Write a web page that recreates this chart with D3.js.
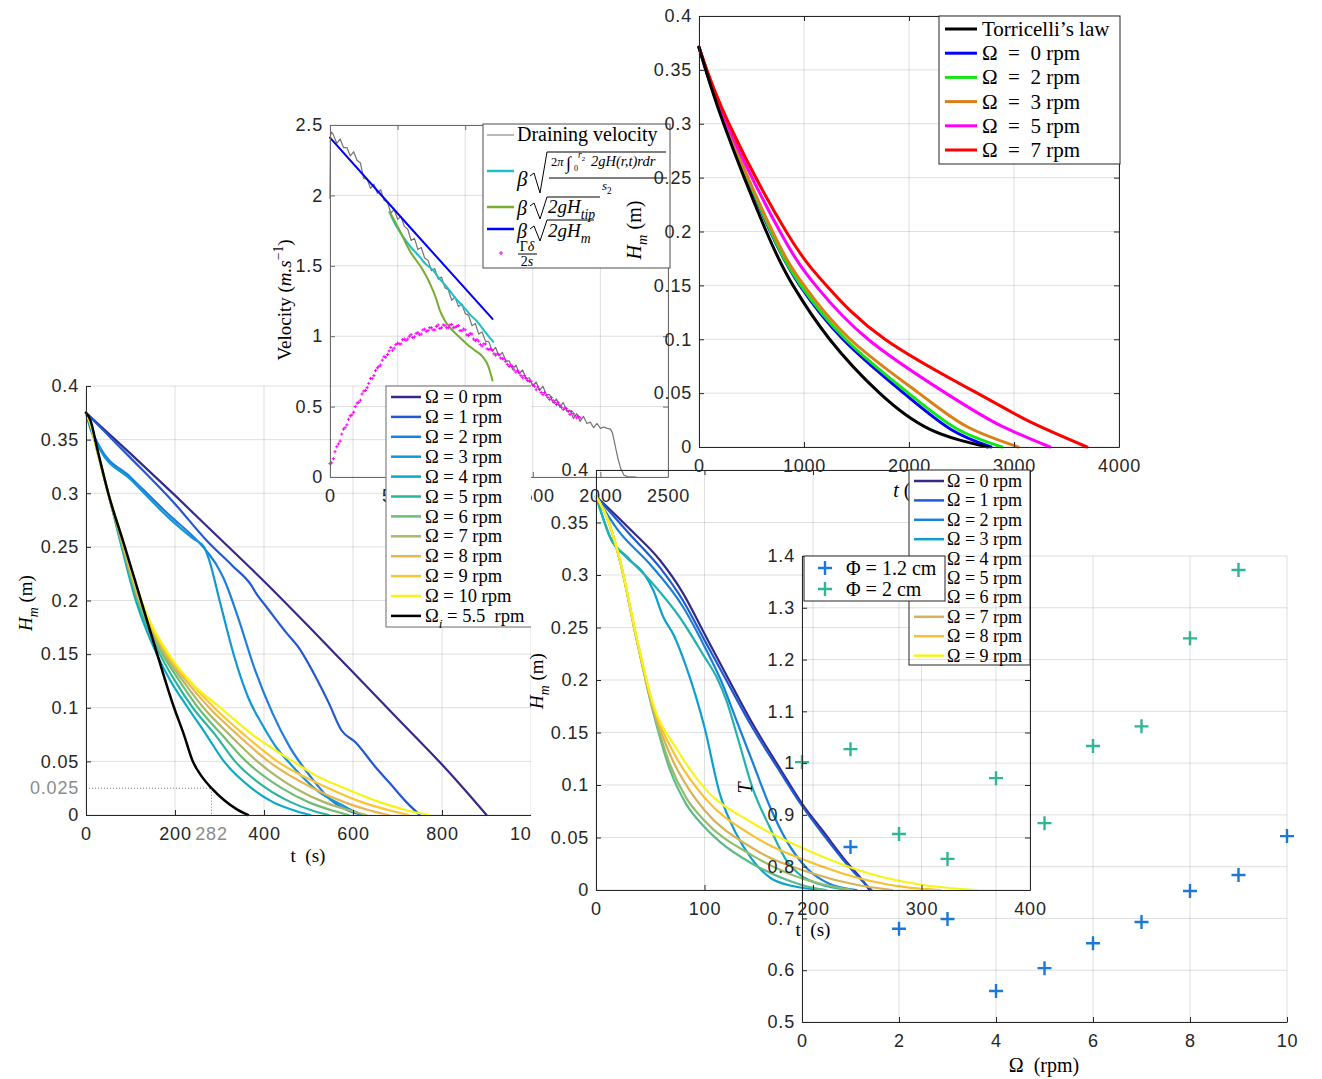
<!DOCTYPE html>
<html>
<head>
<meta charset="utf-8">
<script src="https://cdn.jsdelivr.net/npm/d3@7"></script>
<style>
  body { margin: 0; background: #fff; }
  svg { display: block; }
  text { white-space: pre; }
</style>
</head>
<body>
<svg id="chart" width="1322" height="1079"></svg>
<script>
// ---------- data: velocity panel (t in s, v in m/s) ----------
const velDraining = [[0,1.98],[4,2.43],[12,2.45],[25,2.43],[50,2.37],[75,2.40],[100,2.34],[125,2.34],[150,2.28],[175,2.31],[200,2.25],
  [225,2.23],[250,2.12],[275,2.115],[300,2.05],[325,2.08],[350,2.015],[375,2.04],[400,1.965],[425,1.95],[450,1.875],[475,1.90],
  [500,1.83],[525,1.85],[550,1.78],[575,1.76],[600,1.68],[625,1.695],[650,1.615],[675,1.63],[700,1.555],[725,1.54],[750,1.465],
  [775,1.48],[800,1.405],[825,1.42],[850,1.345],[875,1.33],[900,1.255],[925,1.28],[950,1.21],[975,1.23],[1000,1.16],[1025,1.15],
  [1050,1.075],[1075,1.09],[1100,1.015],[1125,1.03],[1150,0.965],[1175,0.96],[1200,0.895],[1225,0.92],[1250,0.86],[1275,0.885],
  [1300,0.825],[1325,0.825],[1350,0.765],[1375,0.795],[1400,0.735],[1425,0.76],[1450,0.70],[1475,0.705],[1500,0.645],[1525,0.675],
  [1550,0.615],[1575,0.645],[1600,0.585],[1625,0.585],[1650,0.525],[1675,0.555],[1700,0.495],[1725,0.53],[1750,0.47],[1775,0.475],
  [1800,0.415],[1825,0.45],[1850,0.395],[1875,0.43],[1900,0.38],[1925,0.39],[1950,0.35],[1975,0.38],[2000,0.345],[2025,0.355],
  [2050,0.345],[2075,0.34],[2090,0.31],[2110,0.22],[2130,0.13],[2150,0.06],[2175,0.012],[2200,0.003],[2262,0.0]];
const velIntegral = [[440,1.88],[480,1.80],[545,1.70],[600,1.63],[667,1.56],[700,1.52],[765,1.465],[800,1.42],[864,1.35],
  [920,1.28],[986,1.21],[1040,1.15],[1084,1.11],[1140,1.04],[1207,0.96]];
const velTip = [[442,1.88],[500,1.78],[594,1.60],[680,1.48],[741,1.37],[780,1.28],[814,1.18],[850,1.11],[888,1.06],[950,1.0],
  [1011,0.945],[1070,0.90],[1133,0.85],[1170,0.79],[1202,0.686]];
const velMean = [[0,2.41],[600,1.765],[1202,1.123]];
const velGammaA = [[0,0.095],[25,0.13],[50,0.215],[75,0.255],[100,0.34],[125,0.37],[150,0.435],[175,0.46],[200,0.525],[225,0.545],
  [250,0.61],[275,0.635],[300,0.70],[325,0.72],[350,0.775],[375,0.795],[400,0.855],[425,0.87],[450,0.92],[475,0.915],[500,0.95],
  [525,0.945],[550,0.98],[575,0.98],[600,1.01],[625,0.995],[650,1.025],[675,1.015],[700,1.05],[725,1.04],[750,1.06],[775,1.045],
  [800,1.08],[825,1.06],[850,1.077],[875,1.06],[900,1.084],[925,1.063],[950,1.075],[975,1.038],[1000,1.045],[1025,1.005],
  [1050,1.015],[1075,0.97],[1100,0.965],[1125,0.93],[1150,0.945],[1175,0.905],[1200,0.90],[1225,0.865],[1250,0.87],[1275,0.84],
  [1300,0.82],[1325,0.785],[1350,0.785],[1375,0.745],[1400,0.74],[1425,0.705],[1450,0.70],[1475,0.68],[1500,0.655],[1525,0.62],
  [1550,0.62],[1575,0.585],[1600,0.58],[1625,0.55],[1650,0.545],[1675,0.515],[1700,0.51],[1725,0.48],[1750,0.485],[1775,0.445],
  [1800,0.45],[1825,0.42],[1850,0.42]];
const velGammaB = [[12,0.10],[37,0.18],[62,0.235],[87,0.305],[112,0.35],[137,0.41],[162,0.44],[187,0.50],[212,0.53],[237,0.59],
  [262,0.615],[287,0.665],[312,0.70],[337,0.755],[362,0.785],[387,0.83],[412,0.85],[437,0.895],[462,0.90],[487,0.94],[512,0.945],
  [537,0.975],[562,0.97],[587,1.0],[612,0.99],[637,1.02],[662,1.01],[687,1.045],[712,1.035],[737,1.06],[762,1.045],[787,1.07],
  [812,1.055],[837,1.08],[862,1.06],[887,1.08],[912,1.06],[937,1.07],[962,1.04],[987,1.05],[1012,1.01],[1037,1.02],[1062,0.98],
  [1087,0.975],[1112,0.94],[1137,0.945],[1162,0.91],[1187,0.91],[1212,0.875],[1237,0.875],[1262,0.845],[1287,0.84],[1312,0.80],
  [1337,0.795],[1362,0.76],[1387,0.755],[1412,0.72],[1437,0.72],[1462,0.685],[1487,0.68],[1512,0.645],[1537,0.64],[1562,0.60],
  [1587,0.60],[1612,0.565],[1637,0.565],[1662,0.53],[1687,0.53],[1712,0.495],[1737,0.49],[1762,0.465],[1787,0.465],[1812,0.435],[1837,0.43]];
const velXTicks = [0, 500, 1000, 1500, 2000, 2500];
const velYTicks = [0, 0.5, 1, 1.5, 2, 2.5];

// ---------- data: left panel, H_m (m) vs t (s) ----------
const leftOmegaLabels = ["0", "1", "2", "3", "4", "5", "6", "7", "8", "9", "10"];
const leftOm0 = [[0,0.375],[100,0.337],[200,0.298],[300,0.258],[400,0.218],[500,0.176],[600,0.133],[700,0.09],[800,0.047],[850,0.024],[900,0]];
const leftOm1 = [[0,0.375],[50,0.354],[100,0.333],[200,0.29],[271,0.256],[330,0.232],[370,0.215],[385,0.205],[400,0.197],[450,0.17],[480,0.155],
  [512,0.132],[545,0.105],[574,0.079],[605,0.068],[650,0.045],[682,0.03],[720,0.012],[750,0]];
const leftOm2 = [[0,0.375],[10,0.362],[31,0.343],[100,0.315],[194,0.277],[240,0.26],[271,0.246],[295,0.232],[310,0.22],[341,0.185],
  [380,0.135],[419,0.095],[457,0.064],[504,0.036],[550,0.014],[590,0.004],[624,0]];
const leftOm3 = [[0,0.375],[10,0.36],[31,0.341],[100,0.313],[194,0.274],[240,0.258],[265,0.25],[275,0.24],[302,0.197],[333,0.148],
  [364,0.11],[395,0.085],[426,0.064],[465,0.045],[519,0.023],[581,0.008],[620,0]];
const leftOm4 = [[0,0.375],[10,0.365],[25,0.34],[50,0.30],[74,0.26],[112,0.20],[159,0.15],[190,0.125],[229,0.10],[270,0.075],[310,0.05],[372,0.025],[420,0.012],[470,0.004],[504,0]];
const leftOm5 = [[0,0.375],[10,0.365],[25,0.34],[50,0.30],[75,0.26],[115,0.20],[166,0.15],[200,0.125],[240,0.10],[290,0.075],[335,0.05],[405,0.025],[460,0.012],[510,0.004],[545,0]];
const leftOm6 = [[0,0.375],[10,0.365],[25,0.34],[50,0.30],[76,0.26],[117,0.20],[172,0.15],[210,0.125],[252,0.10],[305,0.075],[360,0.05],[440,0.025],[500,0.012],[555,0.004],[590,0]];
const leftOm7 = [[0,0.375],[10,0.365],[25,0.34],[50,0.30],[77,0.26],[119,0.20],[176,0.15],[218,0.125],[264,0.10],[322,0.075],[385,0.05],[470,0.025],[535,0.012],[595,0.004],[630,0]];
const leftOm8 = [[0,0.375],[10,0.365],[25,0.34],[50,0.30],[78,0.26],[121,0.20],[180,0.15],[225,0.125],[277,0.10],[340,0.075],[410,0.05],[510,0.025],[580,0.012],[640,0.004],[680,0]];
const leftOm9 = [[0,0.375],[10,0.365],[25,0.34],[50,0.30],[79,0.26],[122,0.20],[183,0.15],[232,0.125],[288,0.10],[355,0.075],[430,0.05],[545,0.025],[620,0.012],[685,0.004],[725,0]];
const leftOm10 = [[0,0.375],[10,0.365],[25,0.34],[50,0.30],[80,0.26],[124,0.20],[186,0.15],[240,0.122],[302,0.10],[380,0.073],[465,0.05],[520,0.036],[581,0.025],[660,0.012],[725,0.004],[771,0]];
const leftOmegaI = [[0,0.375],[10,0.368],[25,0.342],[50,0.30],[85,0.253],[120,0.205],[160,0.15],[198,0.10],[220,0.075],[240,0.05],[260,0.036],[282,0.025],[310,0.014],[340,0.005],[364,0]];
const leftXTicks = [0, 200, 400, 600, 800, 1000];
const hTicks = [0, 0.05, 0.1, 0.15, 0.2, 0.25, 0.3, 0.35, 0.4];
const leftMarkT = 282, leftMarkH = 0.025;

// ---------- data: top-right panel, H_m (m) vs t (s) ----------
const trLabels = ["Torricelli’s law", "0", "2", "3", "5", "7"];
const trTorricelli = [[0,0.371],[235,0.30],[641,0.20],[895,0.15],[1244,0.10],[1720,0.05],[2200,0.0164],[2750,0]];
const trOm0 = [[0,0.371],[245,0.30],[680,0.20],[960,0.15],[1371,0.10],[1950,0.05],[2400,0.0163],[2781,0]];
const trOm2 = [[0,0.371],[250,0.30],[685,0.20],[970,0.15],[1395,0.10],[1995,0.05],[2450,0.0172],[2886,0]];
const trOm3 = [[0,0.371],[255,0.30],[700,0.20],[1000,0.15],[1440,0.10],[2094,0.05],[2550,0.019],[3040,0]];
const trOm5 = [[0,0.371],[265,0.30],[771,0.20],[1110,0.15],[1610,0.10],[2350,0.05],[2850,0.021],[3343,0]];
const trOm7 = [[0,0.371],[285,0.30],[830,0.20],[1213,0.15],[1771,0.10],[2650,0.05],[3150,0.0235],[3695,0]];
const trXTicks = [0, 1000, 2000, 3000, 4000];

// ---------- data: middle panel, H_m (m) vs t (s) ----------
const midOmegaLabels = ["0", "1", "2", "3", "4", "5", "6", "7", "8", "9"];
const midOm0 = [[0,0.375],[30,0.345],[59,0.314],[80,0.283],[100,0.244],[120,0.205],[144,0.159],[170,0.115],[190,0.082],[210,0.055],[230,0.028],[245,0.01],[252,0]];
const midOm1 = [[0,0.375],[30,0.34],[59,0.307],[80,0.276],[100,0.238],[120,0.2],[144,0.155],[170,0.112],[190,0.08],[210,0.052],[230,0.026],[245,0.009],[254,0]];
const midOm2 = [[0,0.375],[20,0.343],[50,0.31],[80,0.27],[100,0.232],[115,0.2],[130,0.16],[145,0.12],[160,0.08],[175,0.048],[195,0.02],[215,0.006],[240,0]];
const midOm3 = [[0,0.375],[8,0.35],[13,0.336],[28,0.317],[45,0.3],[53,0.285],[62,0.26],[71,0.244],[83,0.213],[100,0.155],[114,0.092],[129,0.054],[144,0.029],[160,0.012],[180,0.004],[210,0]];
const midOm4 = [[0,0.375],[13,0.336],[30,0.316],[53,0.291],[77,0.26],[100,0.222],[111,0.203],[120,0.181],[132,0.14],[144,0.098],[160,0.06],[175,0.029],[190,0.013],[205,0.006],[236,0]];
const midOm5 = [[0,0.375],[10,0.355],[22,0.314],[37,0.241],[53,0.168],[68,0.115],[83,0.082],[100,0.060],[114,0.046],[144,0.025],[175,0.01],[200,0.002],[212,0]];
const midOm6 = [[0,0.375],[10,0.355],[22,0.314],[37,0.241],[53,0.17],[68,0.12],[83,0.088],[100,0.066],[144,0.033],[190,0.011],[236,0]];
const midOm7 = [[0,0.375],[10,0.355],[22,0.314],[37,0.241],[53,0.172],[70,0.125],[85,0.097],[100,0.076],[144,0.040],[199,0.016],[240,0.005],[273,0]];
const midOm8 = [[0,0.375],[10,0.355],[22,0.314],[37,0.242],[53,0.174],[72,0.13],[100,0.088],[144,0.052],[199,0.026],[251,0.009],[290,0.002],[317,0]];
const midOm9 = [[0,0.375],[10,0.355],[22,0.315],[37,0.243],[53,0.176],[74,0.135],[100,0.097],[144,0.064],[199,0.036],[251,0.016],[300,0.005],[351,0]];
const midXTicks = [0, 100, 200, 300, 400];

// ---------- data: scatter panel ----------
const scOmega = [0, 1, 2, 3, 4, 5, 6, 7, 8, 9, 10];
const scPhi12 = [null, 0.838, 0.68, 0.699, 0.56, 0.604, 0.652, 0.693, 0.753, 0.784, 0.859];
const scPhi2 = [1.002, 1.027, 0.863, 0.815, 0.971, 0.884, 1.033, 1.071, 1.241, 1.373, null];
const scXTicks = [0, 2, 4, 6, 8, 10];
const scYTicks = [0.5, 0.6, 0.7, 0.8, 0.9, 1, 1.1, 1.2, 1.3, 1.4];

// ---------- styles ----------
const leftColors = ["#352a87", "#2357d3", "#1e7ddf", "#1396d4", "#09aac6", "#2ab59c", "#6dbe74", "#abb866", "#e8b550", "#f8c534", "#f5f413"];
const midColors = ["#352a87", "#1f5ad6", "#1a80dd", "#0d9fcf", "#22b2ae", "#5bbb88", "#93bd6e", "#d8b257", "#f8c12f", "#f6f517"];
const trColors = ["#000000", "#0000ff", "#14e614", "#d98019", "#ff00ff", "#ff0000"];
const SANS = "'Liberation Sans', Arial, Helvetica, sans-serif";
const SERIF = "'Liberation Serif', 'Times New Roman', serif";
const TICK_FS = 18;

const svg = d3.select("#chart");
const fmt = d => String(+d.toFixed(4));

// write text made of parts: [string, style] where style may hold "it", "sub", "sup"
function rich(textSel, parts, size) {
  let shift = 0;
  parts.forEach(([str, st]) => {
    let target = 0, fs = size;
    if (st.includes("sub")) { target = size * 0.3; fs = size * 0.72; }
    if (st.includes("sup")) { target = -size * 0.42; fs = size * 0.72; }
    const t = textSel.append("tspan").text(str).attr("font-size", fs);
    if (target - shift !== 0) t.attr("dy", target - shift);
    if (st.includes("it")) t.attr("font-style", "italic");
    shift = target;
  });
}

function panel(cfg) {
  const g = svg.append("g");
  if (cfg.clipRight) {
    svg.append("clipPath").attr("id", cfg.id + "-clip")
      .append("rect").attr("x", 0).attr("y", 0).attr("width", cfg.clipRight).attr("height", 1079);
    g.attr("clip-path", `url(#${cfg.id}-clip)`);
  }
  const x = d3.scaleLinear().domain(cfg.xDomain).range([cfg.left, cfg.right]);
  const y = d3.scaleLinear().domain(cfg.yDomain).range([cfg.bottom, cfg.top]);
  const grid = g.append("g").attr("stroke", "#262626").attr("stroke-opacity", 0.15).attr("stroke-width", 1);
  grid.selectAll(".gx").data(cfg.xTicks).join("line")
    .attr("x1", d => x(d)).attr("x2", d => x(d)).attr("y1", cfg.top).attr("y2", cfg.bottom);
  grid.selectAll(".gy").data(cfg.yTicks).join("line")
    .attr("x1", cfg.left).attr("x2", cfg.right).attr("y1", d => y(d)).attr("y2", d => y(d));
  const plot = g.append("g");
  return { g, x, y, plot, cfg };
}

function addAxes(p) {
  const { g, x, y, cfg } = p;
  const col = cfg.axisColor || "#262626";
  const style = sel => {
    sel.attr("font-size", null).attr("font-family", null);
    sel.select(".domain").attr("stroke", col);
    sel.selectAll(".tick line").attr("stroke", col);
    sel.selectAll(".tick text").attr("fill", "#262626").attr("font-size", TICK_FS)
      .attr("font-family", SANS).attr("letter-spacing", 0.8);
  };
  g.append("g").attr("transform", `translate(0,${cfg.bottom})`)
    .call(d3.axisBottom(x).tickValues(cfg.xTicks).tickFormat(fmt).tickSizeInner(-5).tickSizeOuter(0).tickPadding(12))
    .call(style);
  g.append("g").attr("transform", `translate(${cfg.left},0)`)
    .call(d3.axisLeft(y).tickValues(cfg.yTicks).tickFormat(fmt).tickSizeInner(-5).tickSizeOuter(0).tickPadding(7))
    .call(style);
  if (cfg.box) {
    g.append("g").attr("transform", `translate(0,${cfg.top})`)
      .call(d3.axisTop(x).tickValues(cfg.xTicks).tickFormat(() => "").tickSizeInner(-5).tickSizeOuter(0))
      .call(style);
    g.append("g").attr("transform", `translate(${cfg.right},0)`)
      .call(d3.axisRight(y).tickValues(cfg.yTicks).tickFormat(() => "").tickSizeInner(-5).tickSizeOuter(0))
      .call(style);
  }
}

function drawLine(p, data, color, width, curve) {
  const line = d3.line().x(d => p.x(d[0])).y(d => p.y(d[1])).curve(curve || d3.curveMonotoneX);
  p.plot.append("path").datum(data).attr("d", line)
    .attr("fill", "none").attr("stroke", color).attr("stroke-width", width)
    .attr("stroke-linejoin", "round").attr("stroke-linecap", "round");
}

function label(g, x, y, parts, size, rotate) {
  const t = g.append("text").attr("font-family", SERIF).attr("fill", "#000")
    .attr("text-anchor", "middle");
  if (rotate) t.attr("transform", `translate(${x},${y}) rotate(-90)`);
  else t.attr("x", x).attr("y", y);
  rich(t, parts, size);
  return t;
}

function legend(g, o) {
  const lg = g.append("g");
  lg.append("rect").attr("x", o.x).attr("y", o.y).attr("width", o.w).attr("height", o.h)
    .attr("fill", "#fff").attr("stroke", o.stroke || "#262626").attr("stroke-width", 1);
  o.rows.forEach((r, i) => {
    const cy = o.y + o.first + i * o.rowH;
    if (r.marker === "plus") {
      lg.append("path").attr("d", `M${o.s1 - 7},${cy}h14M${o.s1},${cy - 7}v14`)
        .attr("stroke", r.color).attr("stroke-width", 2.4);
    } else {
      lg.append("line").attr("x1", o.s1).attr("x2", o.s2).attr("y1", cy).attr("y2", cy)
        .attr("stroke", r.color).attr("stroke-width", o.lw || 2.5);
    }
    const t = lg.append("text").attr("x", o.tx).attr("y", cy + o.fs * 0.33)
      .attr("font-family", SERIF).attr("fill", "#000");
    rich(t, r.parts, o.fs);
  });
}

// ================= velocity panel =================
const pv = panel({ id: "vel", left: 330, right: 668, top: 125, bottom: 477,
  xDomain: [0, 2500], yDomain: [0, 2.5], xTicks: velXTicks, yTicks: velYTicks, box: true, axisColor: "#6b6b6b" });
drawLine(pv, velDraining, "#737373", 1.2, d3.curveLinear);
drawLine(pv, velIntegral, "#1cc0c6", 2);
drawLine(pv, velTip, "#77ac30", 2);
drawLine(pv, velMean, "#0000ff", 2);
pv.plot.selectAll(".gam").data(velGammaA.concat(velGammaB)).join("path")
  .attr("d", d => `M${pv.x(d[0]) - 1.6},${pv.y(d[1])}h3.2M${pv.x(d[0])},${pv.y(d[1]) - 1.6}v3.2`)
  .attr("stroke", "#ff00ff").attr("stroke-width", 1);
addAxes(pv);
label(pv.g, 291, 300, [["Velocity (", ""], ["m.s", "it"], ["−1", "sup"], [")", ""]], 19, true);
{
  const lg = pv.g.append("g");
  lg.append("rect").attr("x", 483).attr("y", 124).attr("width", 187).attr("height", 144)
    .attr("fill", "#fff").attr("stroke", "#4d4d4d").attr("stroke-width", 1);
  const sample = (yy, c, w) => lg.append("line").attr("x1", 487).attr("x2", 514).attr("y1", yy).attr("y2", yy)
    .attr("stroke", c).attr("stroke-width", w);
  const txt = (xx, yy, fs, parts, anchor) => {
    const t = lg.append("text").attr("x", xx).attr("y", yy).attr("font-family", SERIF).attr("fill", "#000");
    if (anchor) t.attr("text-anchor", anchor);
    rich(t, parts, fs);
  };
  const path = d => lg.append("path").attr("d", d).attr("fill", "none").attr("stroke", "#000").attr("stroke-width", 1);
  sample(135, "#737373", 1);
  txt(517, 141, 20, [["Draining velocity", ""]]);
  sample(171, "#1cc0c6", 2.5);
  txt(517, 186, 21, [["β", "it"]]);
  path("M530,176 L534,173 L540,193 L547,152 L666,152");
  txt(551, 166, 12.5, [["2", ""], ["π", "it"]]);
  txt(566, 169, 18, [["∫", ""]]);
  txt(574, 171, 8, [["0", ""]]);
  txt(578, 158, 9.5, [["r", "it"], ["2", "sub"]]);
  txt(591, 166, 14.5, [["2gH(r,t)rdr", "it"]]);
  path("M549,178 L667,178");
  txt(602, 190, 13, [["s", "it"], ["2", "sub"]]);
  sample(207, "#77ac30", 2.5);
  txt(517, 215, 20, [["β", "it"]]);
  path("M530,206 L534,203 L540,219 L547,197 L600,197");
  txt(548, 213, 19, [["2gH", "it"], ["tip", "it sub"]]);
  sample(229, "#0000ff", 2.5);
  txt(517, 238, 20, [["β", "it"]]);
  path("M530,229 L534,226 L540,241 L547,220 L594,220");
  txt(548, 237, 19, [["2gH", "it"], ["m", "it sub"]]);
  lg.append("path").attr("d", "M499,253h4M501,251v4").attr("stroke", "#ff00ff").attr("stroke-width", 1.1);
  txt(527, 251, 14, [["Γ", ""], ["δ", "it"]], "middle");
  path("M518,254 L537,254");
  txt(527, 266, 14, [["2", ""], ["s", "it"]], "middle");
}

// ================= left panel =================
const pl = panel({ id: "left", left: 86, right: 531, top: 386, bottom: 815, clipRight: 531,
  xDomain: [0, 1000], yDomain: [0, 0.4], xTicks: leftXTicks, yTicks: hTicks, box: false });
const leftSeries = [leftOm0, leftOm1, leftOm2, leftOm3, leftOm4, leftOm5, leftOm6, leftOm7, leftOm8, leftOm9, leftOm10];
leftSeries.forEach((s, i) => drawLine(pl, s, leftColors[i], 2.2));
drawLine(pl, leftOmegaI, "#000", 2.5);
pl.plot.append("path")
  .attr("d", `M${pl.x(0)},${pl.y(leftMarkH)}H${pl.x(leftMarkT)}V${pl.y(0)}`)
  .attr("fill", "none").attr("stroke", "#555").attr("stroke-width", 0.8).attr("stroke-dasharray", "1,2");
addAxes(pl);
pl.g.append("text").attr("x", pl.x(0) - 7).attr("y", pl.y(leftMarkH) + 6).attr("text-anchor", "end")
  .attr("font-family", SANS).attr("font-size", TICK_FS).attr("letter-spacing", 0.8).attr("fill", "#8c8c8c").text(fmt(leftMarkH));
pl.g.append("text").attr("x", pl.x(leftMarkT)).attr("y", pl.y(0) + 25).attr("text-anchor", "middle")
  .attr("font-family", SANS).attr("font-size", TICK_FS).attr("letter-spacing", 0.8).attr("fill", "#8c8c8c").text(leftMarkT);
label(pl.g, 32, 603, [["H", "it"], ["m", "it sub"], [" (m)", ""]], 19, true);
label(pl.g, 308, 862, [["t  (s)", ""]], 19, false);
legend(pl.g, { x: 386, y: 386, w: 160, h: 241, first: 11, rowH: 19.9, s1: 391, s2: 421, tx: 425, fs: 18.5, stroke: "#6b6b6b",
  rows: leftOmegaLabels.map((l, i) => ({ color: leftColors[i], parts: [[`Ω = ${l} rpm`, ""]] }))
    .concat([{ color: "#000", parts: [["Ω", ""], ["i", "it sub"], [" = 5.5  rpm", ""]] }]) });

// ================= top-right panel =================
const pt = panel({ id: "tr", left: 699, right: 1119, top: 16, bottom: 447,
  xDomain: [0, 4000], yDomain: [0, 0.4], xTicks: trXTicks, yTicks: hTicks, box: true });
const trSeries = [trTorricelli, trOm0, trOm2, trOm3, trOm5, trOm7];
[1, 2, 3, 4, 5, 0].forEach(i => drawLine(pt, trSeries[i], trColors[i], 3, d3.curveNatural));
addAxes(pt);
label(pt.g, 641, 230, [["H", "it"], ["m", "it sub"], [" (m)", ""]], 20, true);
label(pt.g, 909, 497, [["t", "it"], [" (s)", ""]], 20, false);
legend(pt.g, { x: 939, y: 16, w: 181, h: 148, first: 13, rowH: 24.2, s1: 945, s2: 977, tx: 982, fs: 21, lw: 3,
  rows: trLabels.map((l, i) => ({ color: trColors[i], parts: [[i === 0 ? l : `Ω  =  ${l} rpm`, ""]] })) });

// ================= middle panel =================
const pm = panel({ id: "mid", left: 596, right: 1030, top: 470, bottom: 890,
  xDomain: [0, 400], yDomain: [0, 0.4], xTicks: midXTicks, yTicks: hTicks, box: true });
const midSeries = [midOm0, midOm1, midOm2, midOm3, midOm4, midOm5, midOm6, midOm7, midOm8, midOm9];
midSeries.forEach((s, i) => drawLine(pm, s, midColors[i], 2.2));
addAxes(pm);
label(pm.g, 543, 681, [["H", "it"], ["m", "it sub"], [" (m)", ""]], 19, true);
label(pm.g, 813, 936, [["t  (s)", ""]], 19, false);
legend(pm.g, { x: 909, y: 470, w: 121, h: 195, first: 11, rowH: 19.4, s1: 914, s2: 944, tx: 947, fs: 18,
  rows: midOmegaLabels.map((l, i) => ({ color: midColors[i], parts: [[`Ω = ${l} rpm`, ""]] })) });

// ================= scatter panel =================
const ps = panel({ id: "sc", left: 802, right: 1287, top: 556, bottom: 1022,
  xDomain: [0, 10], yDomain: [0.5, 1.4], xTicks: scXTicks, yTicks: scYTicks, box: false });
const scSets = [{ vals: scPhi12, color: "#1b78d9" }, { vals: scPhi2, color: "#30b597" }];
scSets.forEach(s => {
  const pts = scOmega.map((o, i) => [o, s.vals[i]]).filter(d => d[1] !== null);
  ps.plot.selectAll(null).data(pts).join("path")
    .attr("d", d => `M${ps.x(d[0]) - 7},${ps.y(d[1])}h14M${ps.x(d[0])},${ps.y(d[1]) - 7}v14`)
    .attr("stroke", s.color).attr("stroke-width", 2.4);
});
addAxes(ps);
label(ps.g, 1044, 1072, [["Ω  (rpm)", ""]], 20, false);
label(ps.g, 752, 788, [["T", "it"]], 20, true);
legend(ps.g, { x: 804, y: 556, w: 141, h: 45, first: 12, rowH: 21, s1: 825, s2: 825, tx: 846, fs: 20,
  rows: [{ marker: "plus", color: "#1b78d9", parts: [["Φ = 1.2 cm", ""]] },
         { marker: "plus", color: "#30b597", parts: [["Φ = 2 cm", ""]] }] });
</script>
</body>
</html>
